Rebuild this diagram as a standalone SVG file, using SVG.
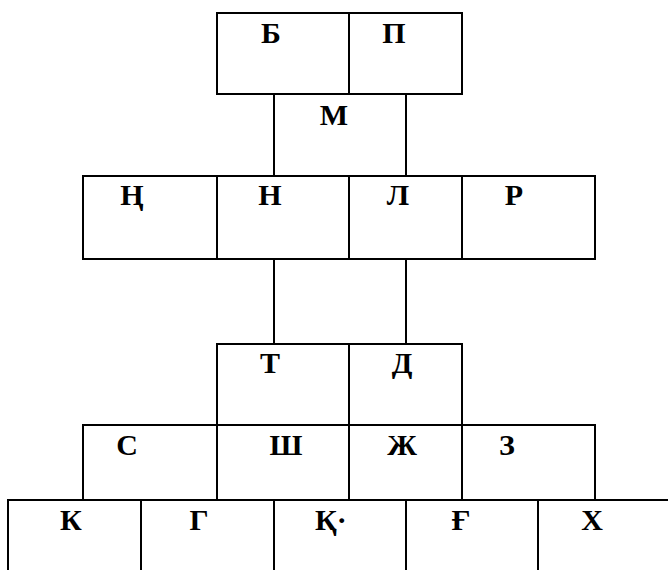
<svg xmlns="http://www.w3.org/2000/svg" width="668" height="570" viewBox="0 0 668 570">
<style>
.ln{stroke:#000;stroke-width:2;fill:none}
.t{font-family:"Liberation Serif","Times New Roman",serif;font-weight:bold;font-size:30px;fill:#000;text-anchor:middle}
</style>
<rect width="668" height="570" fill="#fff"/>
<g id="connectors">
<path class="ln" d="M274,94V176M406,94V176"/>
<path class="ln" d="M274,259V344M406,259V344"/>
</g>
<g id="row1">
<g id="cell-B"><path class="ln" d="M217,13H349V94H217Z"/><text class="t" x="271" y="43">Б</text></g>
<g id="cell-P"><path class="ln" d="M349,13H462V94H349Z"/><text class="t" x="394" y="43">П</text></g>
</g>
<g id="cell-M"><text class="t" x="334" y="125">М</text></g>
<g id="row2">
<g id="cell-NG"><path class="ln" d="M83,176H217V259H83Z"/><text class="t" x="132" y="205">Ң</text></g>
<g id="cell-N"><path class="ln" d="M217,176H349V259H217Z"/><text class="t" x="270" y="205">Н</text></g>
<g id="cell-L"><path class="ln" d="M349,176H462V259H349Z"/><text class="t" x="398" y="205">Л</text></g>
<g id="cell-R"><path class="ln" d="M462,176H595V259H462Z"/><text class="t" x="514" y="205">Р</text></g>
</g>
<g id="row3">
<g id="cell-T"><path class="ln" d="M217,344H349V425H217Z"/><text class="t" x="270" y="373">Т</text></g>
<g id="cell-D"><path class="ln" d="M349,344H462V425H349Z"/><text class="t" x="402" y="373">Д</text></g>
</g>
<g id="row4">
<g id="cell-S"><path class="ln" d="M83,500V425H217"/><text class="t" x="127" y="455">С</text></g>
<g id="cell-SH"><path class="ln" d="M217,500V425H349"/><text class="t" x="286" y="455">Ш</text></g>
<g id="cell-ZH"><path class="ln" d="M349,500V425H462"/><text class="t" x="402" y="455">Ж</text></g>
<g id="cell-Z"><path class="ln" d="M462,500V425H595V500"/><text class="t" x="507" y="455">З</text></g>
</g>
<g id="row5">
<g id="cell-K"><path class="ln" d="M8,570V500H141"/><text class="t" x="71" y="530">К</text></g>
<g id="cell-G"><path class="ln" d="M141,570V500H274"/><text class="t" x="199" y="530">Г</text></g>
<g id="cell-Q"><path class="ln" d="M274,570V500H406"/><text class="t" x="331" y="530">Қ·</text></g>
<g id="cell-GH"><path class="ln" d="M406,570V500H538"/><text class="t" x="461" y="530">Ғ</text></g>
<g id="cell-X"><path class="ln" d="M538,570V500H668"/><text class="t" x="592" y="530">Х</text></g>
</g>
</svg>
